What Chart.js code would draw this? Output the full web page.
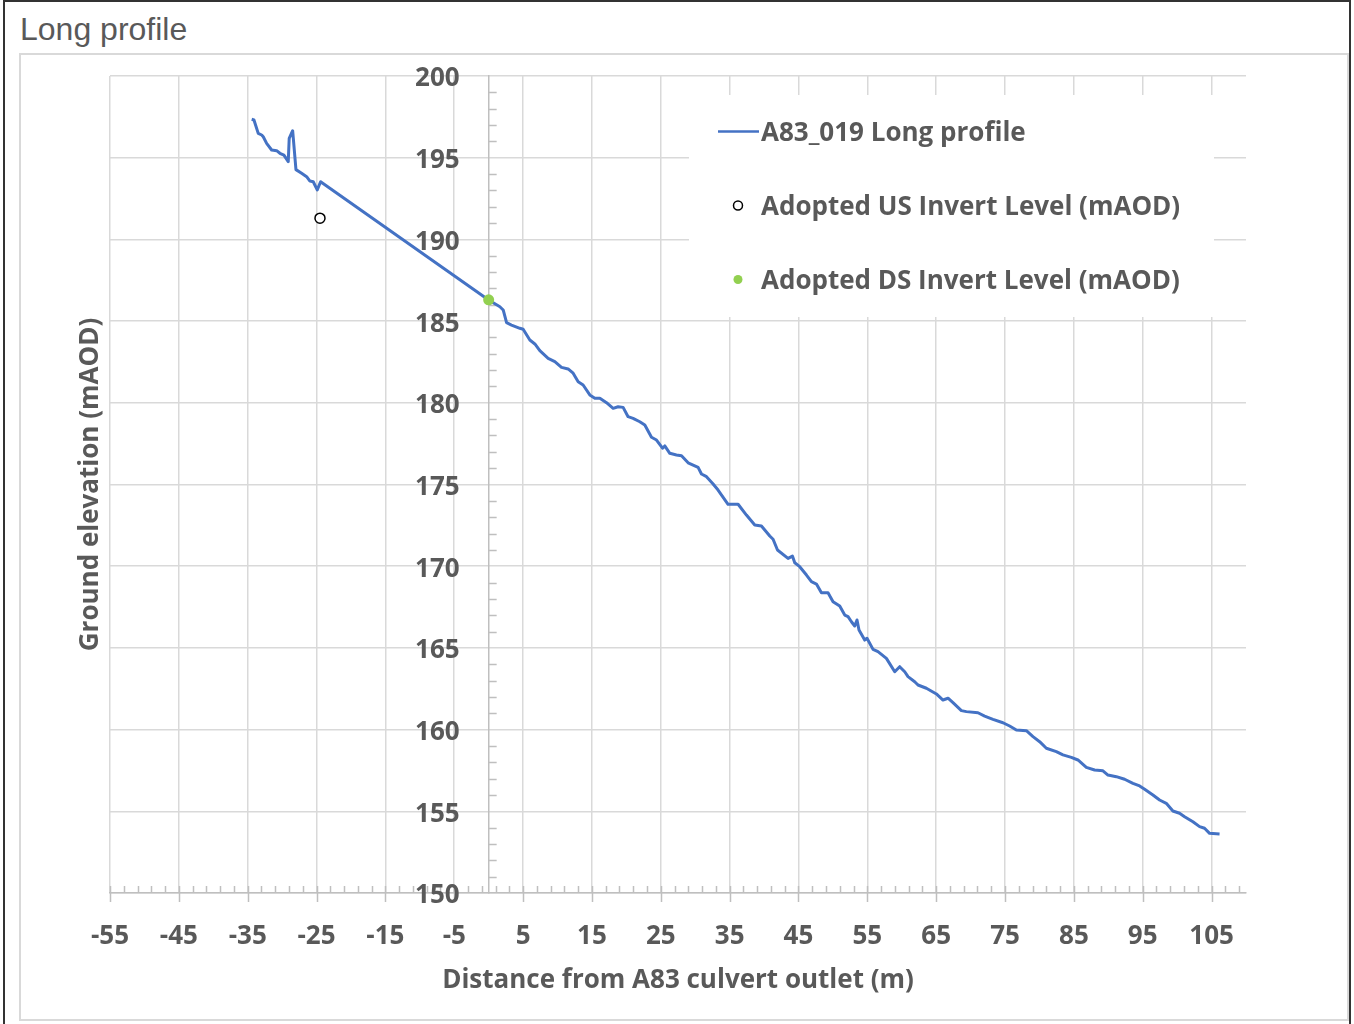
<!DOCTYPE html>
<html>
<head>
<meta charset="utf-8">
<title>Long profile</title>
<script src="https://cdn.jsdelivr.net/npm/chart.js@4.4.1/dist/chart.umd.min.js"></script>
<style>
  html, body { margin: 0; padding: 0; background: #fff; }
  body { width: 1354px; height: 1024px; position: relative; overflow: hidden; }
  .frame { position: absolute; left: 3px; top: 0; width: 1344px; height: 1040px; border: 2px solid #333; }
  .panel { position: absolute; left: 19px; top: 53px; width: 1326px; height: 964px; border: 2px solid #d9d9d9; }
  .heading { position: absolute; left: 20px; top: 13px; font: 32px "Liberation Sans", Arial, sans-serif; line-height: 32px; color: #595959; }
  #chart { position: absolute; left: 0; top: 0; }
</style>
</head>
<body>
<div class="frame"></div>
<div class="panel"></div>
<div class="heading">Long profile</div>
<canvas id="chart" width="1354" height="1024"></canvas>

<script>
// long profile, distance (m) vs ground level (mAOD)
const profileDistance = [
  -34.42, -34.09, -33.47, -32.97, -32.74, -32.25, -31.52, -30.79, -30.32, -29.74,
  -29.11, -28.97, -28.47, -27.99, -27.17, -26.44, -25.96, -25.48, -24.90, -24.41,
  0.0,
  1.63, 2.11, 2.60, 3.32, 4.53, 5.01, 5.98, 6.71, 7.43, 8.64,
  9.61, 10.58, 11.54, 12.27, 13.0, 13.72, 14.69, 15.42, 16.15, 17.12,
  18.08, 18.80, 19.53, 20.25, 20.98, 21.95, 22.68, 23.65, 24.38, 25.25,
  25.58, 26.31, 27.28, 28.01, 28.97, 30.42, 30.91, 31.64, 32.60, 33.32,
  34.77, 36.23, 37.44, 38.65, 39.62, 40.83, 41.31, 41.95, 43.48, 44.12,
  44.46, 45.18, 46.16, 46.88, 47.61, 48.33, 49.29, 50.02, 50.99, 51.72,
  52.20, 52.69, 53.17, 53.50, 53.79, 54.62, 54.95, 55.83, 56.55, 57.77,
  58.98, 59.70, 60.43, 60.91, 61.88, 62.36, 63.58, 65.03, 65.99, 66.72,
  67.44, 68.66, 69.39, 71.07, 72.04, 73.25, 74.70, 75.67, 76.65, 78.10,
  79.06, 80.03, 81.00, 82.45, 83.41, 84.63, 85.59, 86.81, 88.01, 89.22,
  89.95, 91.17, 92.37, 93.58, 94.55, 95.28, 96.48, 97.45, 98.42, 99.38,
  100.35, 101.08, 102.29, 103.26, 103.98, 104.71, 106.16
];
const profileElevation = [
  197.35, 197.31, 196.49, 196.39, 196.28, 195.88, 195.47, 195.43, 195.27, 195.16,
  194.76, 196.19, 196.65, 194.27, 194.05, 193.84, 193.57, 193.53, 193.03, 193.53,
  186.29,
  185.88, 185.68, 184.90, 184.76, 184.56, 184.50, 183.84, 183.60, 183.19, 182.72,
  182.52, 182.17, 182.07, 181.81, 181.29, 181.09, 180.48, 180.28, 180.28, 180.01,
  179.66, 179.76, 179.72, 179.15, 179.05, 178.84, 178.64, 177.89, 177.72, 177.22,
  177.36, 176.91, 176.81, 176.76, 176.33, 176.05, 175.64, 175.48, 175.03, 174.66,
  173.79, 173.79, 173.13, 172.52, 172.46, 171.85, 171.65, 170.99, 170.48, 170.62,
  170.21, 169.97, 169.46, 169.05, 168.91, 168.38, 168.38, 167.83, 167.56, 167.01,
  166.91, 166.60, 166.34, 166.71, 166.10, 165.48, 165.59, 164.91, 164.77, 164.36,
  163.54, 163.85, 163.54, 163.24, 162.93, 162.73, 162.53, 162.18, 161.81, 161.92,
  161.65, 161.16, 161.10, 161.03, 160.83, 160.63, 160.42, 160.22, 159.98, 159.93,
  159.57, 159.26, 158.86, 158.65, 158.45, 158.30, 158.14, 157.69, 157.53, 157.48,
  157.22, 157.12, 156.96, 156.71, 156.55, 156.35, 156.00, 155.69, 155.49, 155.02,
  154.88, 154.67, 154.36, 154.06, 153.96, 153.65, 153.61
];

const usInvertDistance = [-24.5];
const usInvertLevel = [191.3];
const dsInvertDistance = [0];
const dsInvertLevel = [186.3];

const seriesNames = [
  "A83_019 Long profile",
  "Adopted US Invert Level (mAOD)",
  "Adopted DS Invert Level (mAOD)"
];

const xTickValues = [-55, -45, -35, -25, -15, -5, 5, 15, 25, 35, 45, 55, 65, 75, 85, 95, 105];
const yTickValues = [150, 155, 160, 165, 170, 175, 180, 185, 190, 195, 200];
const xAxisTitle = "Distance from A83 culvert outlet (m)";
const yAxisTitle = "Ground elevation (mAOD)";

const FONT = '"Open Sans", "DejaVu Sans", sans-serif';
const TEXT = "#595959";
const GRID = "#d9d9d9";
const AXIS = "#bfbfbf";
const labelFont = { family: FONT, size: 26, weight: "bold" };

const toPoints = (xs, ys) => xs.map((x, i) => ({ x: x, y: ys[i] }));

// tick marks, y labels (axis sits at x = 0) and the boxed legend
const profileDecor = {
  id: "profileDecor",
  beforeDatasetsDraw(chart) {
    const { ctx, scales } = chart;
    const xs = scales.x, ys = scales.y;
    const axisY = ys.getPixelForValue(150);
    const axisX = xs.getPixelForValue(0);

    ctx.save();
    ctx.strokeStyle = AXIS;
    ctx.lineWidth = 1.5;
    ctx.beginPath();
    // x minor (inside) every 2, major crossing
    for (let v = -55; v <= 110; v += 2) {
      const px = Math.round(xs.getPixelForValue(v)) + 0.5;
      if (xTickValues.includes(v)) {
        ctx.moveTo(px, axisY - 7);
        ctx.lineTo(px, axisY + 9);
      } else {
        ctx.moveTo(px, axisY - 7);
        ctx.lineTo(px, axisY);
      }
    }
    // y minor every 1 on the right of the axis
    for (let v = 151; v < 200; v++) {
      if (v % 5 === 0) continue;
      const py = Math.round(ys.getPixelForValue(v)) + 0.5;
      ctx.moveTo(axisX, py);
      ctx.lineTo(axisX + 8, py);
    }
    ctx.stroke();

    ctx.fillStyle = TEXT;
    ctx.font = `bold ${labelFont.size}px ${FONT}`;
    ctx.textAlign = "right";
    ctx.textBaseline = "middle";
    ys.ticks.forEach(t => {
      ctx.fillText(String(t.value), axisX - 29, ys.getPixelForValue(t.value) + 3);
    });
    ctx.restore();
  },
  afterDatasetsDraw(chart) {
    const { ctx } = chart;
    const box = { left: 689, top: 95, width: 525, height: 222 };
    const rowY = [131.5, 205.5, 279.5];
    ctx.save();
    ctx.fillStyle = "#fff";
    ctx.fillRect(box.left, box.top, box.width, box.height);
    ctx.font = `bold ${labelFont.size}px ${FONT}`;
    ctx.textAlign = "left";
    ctx.textBaseline = "middle";
    chart.data.datasets.forEach((ds, i) => {
      const y = rowY[i];
      if (ds.showLine) {
        ctx.strokeStyle = ds.borderColor;
        ctx.lineWidth = 2.5;
        ctx.beginPath();
        ctx.moveTo(718, y);
        ctx.lineTo(759, y);
        ctx.stroke();
      } else {
        ctx.beginPath();
        ctx.arc(738, y, 4.5, 0, Math.PI * 2);
        ctx.fillStyle = ds.pointBackgroundColor;
        ctx.fill();
        if (ds.pointBorderWidth > 0) {
          ctx.strokeStyle = ds.pointBorderColor;
          ctx.lineWidth = ds.pointBorderWidth;
          ctx.stroke();
        }
      }
      ctx.fillStyle = TEXT;
      ctx.fillText(ds.label, 761, y + 2);
    });
    ctx.restore();
  }
};

new Chart(document.getElementById("chart"), {
  type: "scatter",
  data: {
    datasets: [
      {
        label: seriesNames[0],
        data: toPoints(profileDistance, profileElevation),
        showLine: true,
        borderColor: "#4472c4",
        borderWidth: 3,
        borderJoinStyle: "round",
        pointRadius: 0,
        order: 3
      },
      {
        label: seriesNames[1],
        data: toPoints(usInvertDistance, usInvertLevel),
        showLine: false,
        pointRadius: 5,
        pointBackgroundColor: "#fff",
        pointBorderColor: "#000",
        pointBorderWidth: 1.5,
        order: 1
      },
      {
        label: seriesNames[2],
        data: toPoints(dsInvertDistance, dsInvertLevel),
        showLine: false,
        pointRadius: 5.5,
        pointBackgroundColor: "#92d050",
        pointBorderColor: "#92d050",
        pointBorderWidth: 0,
        order: 2
      }
    ]
  },
  options: {
    responsive: false,
    animation: false,
    layout: { padding: { left: 60, right: 108, top: 76, bottom: 20 } },
    plugins: {
      legend: { display: false },
      tooltip: { enabled: false }
    },
    scales: {
      x: {
        type: "linear",
        position: "bottom",
        min: -55,
        max: 110,
        afterBuildTicks: s => { s.ticks = xTickValues.map(v => ({ value: v })); },
        afterFit: s => { s.height = 111; },
        grid: { color: GRID, lineWidth: 1.5, drawTicks: false },
        border: { display: true, color: AXIS, width: 1.5 },
        ticks: {
          color: TEXT, font: labelFont, padding: 28,
          maxRotation: 0, autoSkip: false,
          callback: v => String(v)
        },
        title: {
          display: true, text: xAxisTitle, color: TEXT, font: labelFont,
          padding: { top: 0, bottom: 8 }
        }
      },
      y: {
        type: "linear",
        position: { x: 0 },
        min: 150,
        max: 200,
        afterBuildTicks: s => { s.ticks = yTickValues.map(v => ({ value: v })); },
        grid: { color: GRID, lineWidth: 1.5, drawTicks: false },
        border: { display: true, color: AXIS, width: 1.5 },
        ticks: { display: false }
      },
      yTitle: {
        type: "linear",
        position: "left",
        min: 150,
        max: 200,
        afterFit: s => { s.width = 50; },
        grid: { display: false, drawTicks: false },
        border: { display: false },
        ticks: { display: false },
        title: {
          display: true, text: yAxisTitle, color: TEXT, font: labelFont,
          padding: { top: 15, bottom: 0 }
        }
      }
    }
  },
  plugins: [profileDecor]
});
</script>
</body>
</html>
